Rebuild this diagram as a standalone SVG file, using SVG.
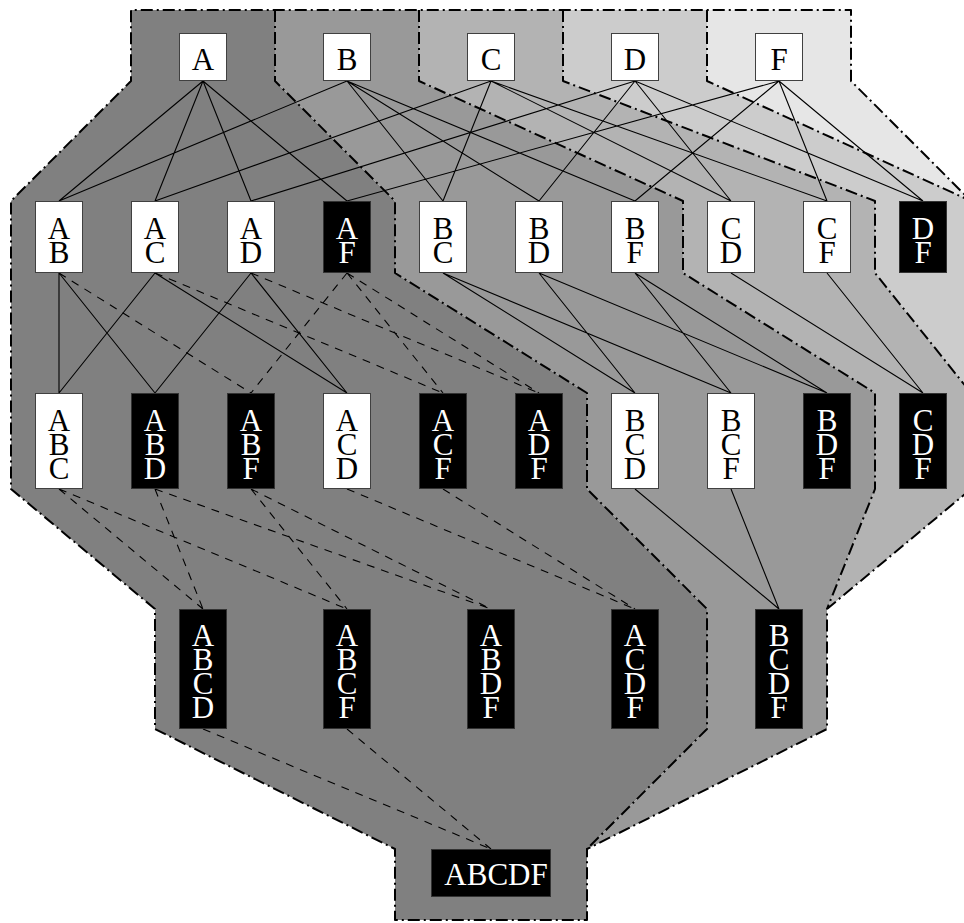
<svg xmlns="http://www.w3.org/2000/svg" width="964" height="923" viewBox="0 0 964 923">
<style>
.bnd{fill:none;stroke:#000;stroke-width:2;stroke-dasharray:12 4 2 4;stroke-linejoin:round}
.e{stroke:#000;stroke-width:1.1;fill:none}
.d{stroke:#000;stroke-width:1.1;fill:none;stroke-dasharray:8 7}
.w rect{fill:#fff;stroke:#404040;stroke-width:1}
.k rect{fill:#000;stroke:#333;stroke-width:1}
text{font-family:"Liberation Serif","Times New Roman",serif;font-size:31px;text-anchor:middle}
.v{writing-mode:vertical-lr;text-orientation:upright;letter-spacing:-10.8px}
.w text{fill:#000}
.k text{fill:#fff}
</style>
<g id="regions">
<polygon fill="#e6e6e6" points="707,10 851,10 851,81 971,201 707,81"/>
<polygon fill="#cccccc" points="563,10 707,10 707,81 971,201 971,393 875,273 875,201 563,81"/>
<polygon fill="#b3b3b3" points="419,10 563,10 563,81 875,201 875,273 971,393 971,489 827,609 875,489 875,393 683,273 683,201 419,81"/>
<polygon fill="#999999" points="275,10 419,10 419,81 683,201 683,273 875,393 875,489 827,609 827,729 587,849 707,729 707,609 587,489 587,393 395,273 395,201 275,81"/>
<polygon fill="#808080" points="131,10 275,10 275,81 395,201 395,273 587,393 587,489 707,609 707,729 587,849 587,920 395,920 395,849 155,729 155,609 11,489 11,201 131,81"/>
</g>
<g id="boundaries">
<path class="bnd" d="M971,489 L827,609 L827,729 L587,849 L587,920 L395,920 L395,849 L155,729 L155,609 L11,489 L11,201 L131,81 L131,10 L851,10 L851,81 L971,201"/>
<path class="bnd" d="M275,10 L275,81 L395,201 L395,273 L587,393 L587,489 L707,609 L707,729 L587,849"/>
<path class="bnd" d="M419,10 L419,81 L683,201 L683,273 L875,393 L875,489 L827,609"/>
<path class="bnd" d="M563,10 L563,81 L875,201 L875,273 L971,393"/>
<path class="bnd" d="M707,10 L707,81 L971,201"/>
</g>
<g id="connectors">
<path class="e" d="M203,81L59,201M203,81L155,201M203,81L251,201M203,81L347,201
M347,81L59,201M347,81L443,201M347,81L539,201M347,81L635,201
M491,81L155,201M491,81L443,201M491,81L731,201M491,81L827,201
M635,81L251,201M635,81L539,201M635,81L731,201M635,81L923,201
M779,81L347,201M779,81L635,201M779,81L827,201M779,81L923,201"/>
<path class="e" d="M59,273L59,393M155,273L59,393M59,273L155,393M251,273L155,393
M155,273L347,393M251,273L347,393M443,273L635,393M539,273L635,393
M443,273L731,393M635,273L731,393M539,273L827,393M635,273L827,393
M731,273L923,393M827,273L923,393"/>
<path class="d" d="M59,273L251,393M347,273L251,393M155,273L443,393M347,273L443,393M251,273L539,393M347,273L539,393"/>
<path class="d" d="M59,489L203,609M155,489L203,609M59,489L347,609M251,489L347,609M155,489L491,609M251,489L491,609M347,489L635,609M443,489L635,609"/>
<path class="e" d="M635,489L779,609M731,489L779,609"/>
<path class="d" d="M203,729L491,849M347,729L491,849"/>
</g>
<g id="n-A" class="w"><rect x="179.5" y="33.5" width="47" height="47"/><text x="203" y="70">A</text></g>
<g id="n-B" class="w"><rect x="323.5" y="33.5" width="47" height="47"/><text x="347" y="70">B</text></g>
<g id="n-C" class="w"><rect x="467.5" y="33.5" width="47" height="47"/><text x="491" y="70">C</text></g>
<g id="n-D" class="w"><rect x="611.5" y="33.5" width="47" height="47"/><text x="635" y="70">D</text></g>
<g id="n-F" class="w"><rect x="755.5" y="33.5" width="47" height="47"/><text x="779" y="70">F</text></g>

<g id="n-AB" class="w"><rect x="35.5" y="201.5" width="47" height="71"/><text class="v" x="59" y="235">AB</text></g>
<g id="n-AC" class="w"><rect x="131.5" y="201.5" width="47" height="71"/><text class="v" x="155" y="235">AC</text></g>
<g id="n-AD" class="w"><rect x="227.5" y="201.5" width="47" height="71"/><text class="v" x="251" y="235">AD</text></g>
<g id="n-AF" class="k"><rect x="323.5" y="201.5" width="47" height="71"/><text class="v" x="347" y="235">AF</text></g>
<g id="n-BC" class="w"><rect x="419.5" y="201.5" width="47" height="71"/><text class="v" x="443" y="235">BC</text></g>
<g id="n-BD" class="w"><rect x="515.5" y="201.5" width="47" height="71"/><text class="v" x="539" y="235">BD</text></g>
<g id="n-BF" class="w"><rect x="611.5" y="201.5" width="47" height="71"/><text class="v" x="635" y="235">BF</text></g>
<g id="n-CD" class="w"><rect x="707.5" y="201.5" width="47" height="71"/><text class="v" x="731" y="235">CD</text></g>
<g id="n-CF" class="w"><rect x="803.5" y="201.5" width="47" height="71"/><text class="v" x="827" y="235">CF</text></g>
<g id="n-DF" class="k"><rect x="899.5" y="201.5" width="47" height="71"/><text class="v" x="923" y="235">DF</text></g>

<g id="n-ABC" class="w"><rect x="35.5" y="393.5" width="47" height="95"/><text class="v" x="59" y="439">ABC</text></g>
<g id="n-ABD" class="k"><rect x="131.5" y="393.5" width="47" height="95"/><text class="v" x="155" y="439">ABD</text></g>
<g id="n-ABF" class="k"><rect x="227.5" y="393.5" width="47" height="95"/><text class="v" x="251" y="439">ABF</text></g>
<g id="n-ACD" class="w"><rect x="323.5" y="393.5" width="47" height="95"/><text class="v" x="347" y="439">ACD</text></g>
<g id="n-ACF" class="k"><rect x="419.5" y="393.5" width="47" height="95"/><text class="v" x="443" y="439">ACF</text></g>
<g id="n-ADF" class="k"><rect x="515.5" y="393.5" width="47" height="95"/><text class="v" x="539" y="439">ADF</text></g>
<g id="n-BCD" class="w"><rect x="611.5" y="393.5" width="47" height="95"/><text class="v" x="635" y="439">BCD</text></g>
<g id="n-BCF" class="w"><rect x="707.5" y="393.5" width="47" height="95"/><text class="v" x="731" y="439">BCF</text></g>
<g id="n-BDF" class="k"><rect x="803.5" y="393.5" width="47" height="95"/><text class="v" x="827" y="439">BDF</text></g>
<g id="n-CDF" class="k"><rect x="899.5" y="393.5" width="47" height="95"/><text class="v" x="923" y="439">CDF</text></g>

<g id="n-ABCD" class="k"><rect x="179.5" y="609.5" width="47" height="119"/><text class="v" x="203" y="666">ABCD</text></g>
<g id="n-ABCF" class="k"><rect x="323.5" y="609.5" width="47" height="119"/><text class="v" x="347" y="666">ABCF</text></g>
<g id="n-ABDF" class="k"><rect x="467.5" y="609.5" width="47" height="119"/><text class="v" x="491" y="666">ABDF</text></g>
<g id="n-ACDF" class="k"><rect x="611.5" y="609.5" width="47" height="119"/><text class="v" x="635" y="666">ACDF</text></g>
<g id="n-BCDF" class="k"><rect x="755.5" y="609.5" width="47" height="119"/><text class="v" x="779" y="666">BCDF</text></g>

<g id="n-ABCDF" class="k"><rect x="431.5" y="849.5" width="119" height="47"/><text x="496" y="885">ABCDF</text></g>
</svg>
